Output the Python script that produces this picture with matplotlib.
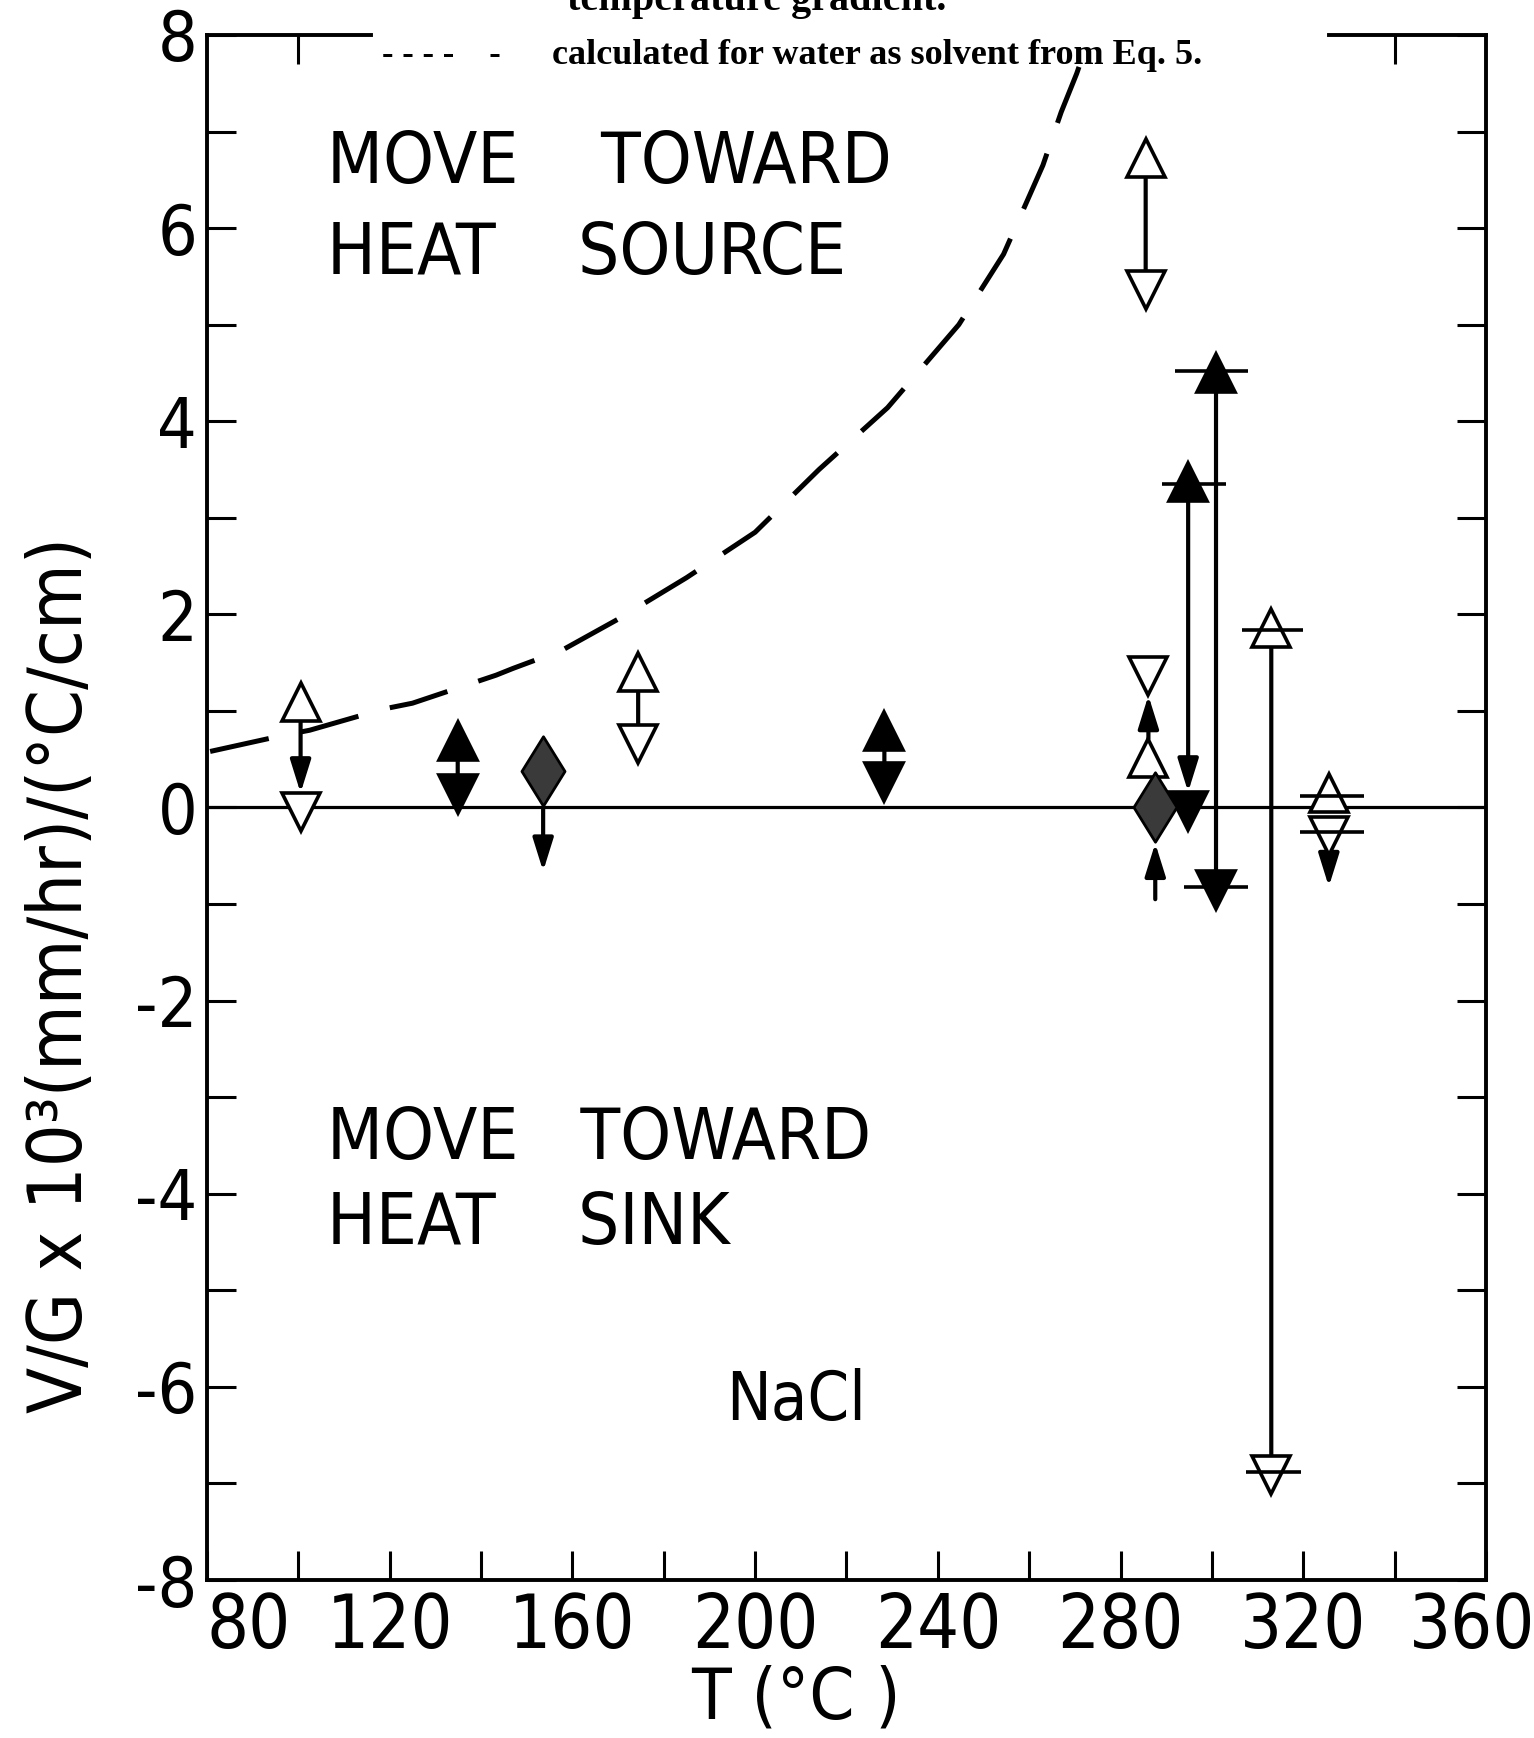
import matplotlib.pyplot as plt
from matplotlib.path import Path
from matplotlib.transforms import ScaledTranslation

plt.rcParams['font.family'] = ['DejaVu Sans']
plt.rcParams['font.stretch'] = 'condensed'

# dashed curve: calculated for water as solvent (Eq. 5)
curve_t = [80.7, 97, 102.5, 118.7, 125, 143.3, 147, 157.8, 170, 185, 200, 214,
           229, 244.6, 254.4, 263, 267, 270.4, 271.5]
curve_v = [0.58, 0.75, 0.80, 1.02, 1.08, 1.37, 1.44, 1.63, 1.95, 2.38, 2.85, 3.5,
           4.14, 5.0, 5.73, 6.65, 7.2, 7.6, 7.75]

# markers
open_up_t = [100.5, 174.4, 285.5, 286.1, 313.0, 325.6]
open_up_v = [1.09, 1.40, 6.73, 0.51, 1.86, 0.15]
open_dn_t = [100.5, 174.4, 285.5, 286.1, 313.0, 325.6]
open_dn_v = [-0.05, 0.66, 5.36, 1.36, -6.91, -0.30]
fill_up_t = [134.9, 228.3, 294.8, 300.9]
fill_up_v = [0.69, 0.79, 3.37, 4.50]
fill_dn_t = [134.9, 228.3, 294.8, 300.9]
fill_dn_v = [0.14, 0.26, -0.04, -0.85]
diam_t = [153.6, 287.6]
diam_v = [0.38, 0.00]

# vertical connectors between markers (arrow head at the "to" end)
link_t = [100.5, 134.9, 153.6, 174.4, 228.3, 285.5, 294.8, 300.9, 286.1, 287.6, 313.0, 325.6]
link_from = [0.89, 0.49, 0.0, 1.20, 0.59, 6.53, 3.17, 4.30, 0.71, -0.95, 1.66, -0.50]
link_to = [0.15, 0.34, -0.66, 0.86, 0.46, 5.56, 0.16, -0.65, 1.16, -0.37, -6.71, -0.82]
link_head = [True, False, True, False, False, False, True, False, True, True, False, True]

# horizontal bars through some markers
bar_v = [3.35, 4.52, -0.82, 1.84, -6.88, 0.12, -0.25]
bar_lo = [289.0, 292.0, 294.0, 306.5, 307.5, 319.3, 319.3]
bar_hi = [303.0, 308.0, 308.0, 320.0, 319.5, 333.2, 333.2]

x_ticks = [80, 120, 160, 200, 240, 280, 320, 360]
x_minor = [100, 140, 180, 220, 260, 300, 340]
y_ticks = [-8, -6, -4, -2, 0, 2, 4, 6, 8]
y_labels = ['-8', '-6', '-4', '-2', '0', '2', '4', '6', '8']
y_minor = [-7, -5, -3, -1, 1, 3, 5, 7]
top_ticks = [100, 340]
top_left_end = 116
top_right_start = 325.6

fig = plt.figure(figsize=(15.34, 17.38), dpi=100)
ax = fig.add_axes([0.1349, 0.0909, 0.8338, 0.8890])

ax.axhline(0, color='black', lw=2.3, zorder=1)
ax.plot(curve_t, curve_v, color='black', lw=3.6, dashes=(12, 6.5), zorder=2)

for t, y0, y1, head in zip(link_t, link_from, link_to, link_head):
    style = '-|>,head_length=0.8,head_width=0.25' if head else '-'
    ax.annotate('', xy=(t, y1), xytext=(t, y0),
                arrowprops=dict(arrowstyle=style, color='black', lw=3,
                                mutation_scale=25, shrinkA=0, shrinkB=0),
                zorder=3)

tri_kw = dict(ls='none', ms=28, mew=2.6, mec='black', zorder=4)
ax.plot(open_up_t, open_up_v, marker='^', mfc='white', **tri_kw)
ax.plot(open_dn_t, open_dn_v, marker='v', mfc='white', **tri_kw)
ax.plot(fill_up_t, fill_up_v, marker='^', mfc='black', **tri_kw)
ax.plot(fill_dn_t, fill_dn_v, marker='v', mfc='black', **tri_kw)

diamond = Path([(0, 1), (0.62, 0), (0, -1), (-0.62, 0), (0, 1)],
               [Path.MOVETO, Path.LINETO, Path.LINETO, Path.LINETO, Path.CLOSEPOLY])
ax.plot(diam_t, diam_v, ls='none', marker=diamond, ms=50, mfc='#3a3a3a',
        mec='black', mew=2, zorder=4)

ax.hlines(bar_v, bar_lo, bar_hi, color='black', lw=2.6, zorder=5)

ax.set_xlim(80, 360)
ax.set_ylim(-8, 8)
ax.set_xticks(x_ticks)
ax.set_xticks(x_minor, minor=True)
ax.set_yticks(y_ticks)
ax.set_yticklabels(y_labels)
ax.set_yticks(y_minor, minor=True)
ax.tick_params(which='both', direction='in', length=21, width=2.2,
               top=False, right=True)
ax.tick_params(axis='x', labelsize=53, pad=8)
ax.tick_params(axis='y', labelsize=50, pad=7)
xlabels = ax.get_xticklabels()
xlabels[0].set_horizontalalignment('left')
xlabels[-1].set_transform(xlabels[-1].get_transform()
                          + ScaledTranslation(-0.14, 0, fig.dpi_scale_trans))
for s in ax.spines.values():
    s.set_linewidth(2.8)
ax.spines['top'].set_bounds(80, top_left_end)

sec = ax.secondary_xaxis('top')
sec.set_xticks(top_ticks)
sec.tick_params(direction='in', length=21, width=2.2, labeltop=False)
sec.spines['top'].set_linewidth(2.8)
sec.spines['top'].set_bounds(top_right_start, 360)

ax.text(106.2, 6.47, 'MOVE    TOWARD', fontsize=52, va='baseline')
ax.text(106.2, 5.52, 'HEAT    SOURCE', fontsize=52, va='baseline')
ax.text(106.2, -3.64, 'MOVE   TOWARD', fontsize=52, va='baseline')
ax.text(106.2, -4.52, 'HEAT    SINK', fontsize=52, va='baseline')
ax.text(193.6, -6.34, 'NaCl', fontsize=48, va='baseline')

fig.text(0.040, 0.439, 'V/G x 10³(mm/hr)/(°C/cm)', rotation=90,
         ha='center', va='center', fontsize=54)
fig.text(0.519, 0.0115, 'T (°C )', ha='center', va='baseline', fontsize=52)

cap_kw = dict(family='Liberation Serif', weight='bold', stretch='normal',
              va='baseline')
fig.text(0.493, 1 - 10 / 1738, 'temperature gradient.', ha='center',
         fontsize=29, **cap_kw)
fig.text(0.249, 1 - 64 / 1738, '- - - -    -', ha='left', fontsize=25, **cap_kw)
fig.text(0.360, 1 - 64 / 1738, 'calculated for water as solvent from Eq. 5.',
         ha='left', fontsize=26, **cap_kw)

fig.savefig('out.png', dpi=100)
